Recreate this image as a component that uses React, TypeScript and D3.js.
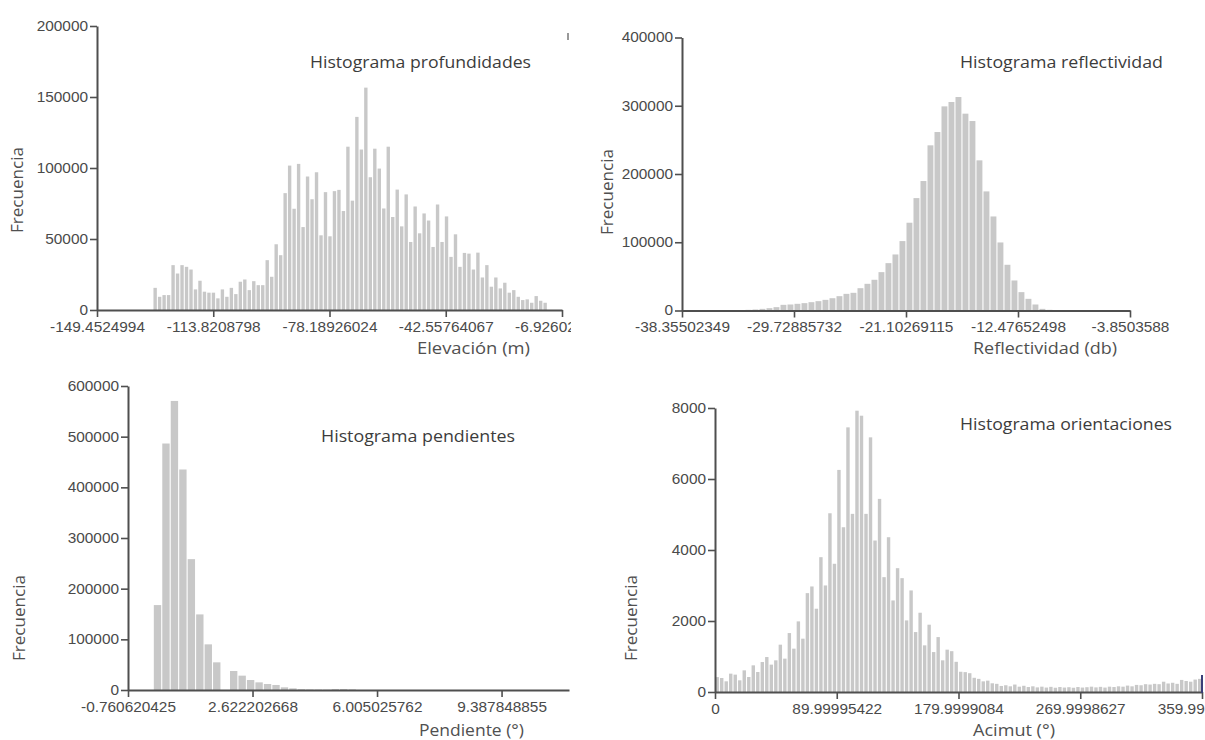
import React, { useEffect, useRef } from 'react';
import * as d3 from 'd3';

// Histograma profundidades
const elevTicks = [-149.4524994, -113.8208798, -78.18926024, -42.55764067, -6.92602889];
const elevTickLabels = ['-149.4524994', '-113.8208798', '-78.18926024', '-42.55764067', '-6.926028889'];
const elevYTicks = [0, 50000, 100000, 150000, 200000];
const elevBinStart = -132.3;
const elevBinWidth = 1.374;
const elevCounts = [
  15600, 9300, 10500, 10500, 31600, 25700, 31600, 30400, 28500, 14500, 20600, 12900, 12200, 12200, 8200,
  14500, 9300, 15600, 11200, 19900, 21500, 14000, 20300, 17500, 17500, 35100, 23400, 46300, 38600,
  82300, 101700, 71300, 102900, 58400, 94000, 78000, 97000, 52600, 83000, 51900, 83700, 84600, 69700,
  115000, 77000, 136000, 113000, 156600, 93500, 113600, 99600, 71500, 115000, 65500, 84800, 58900, 81400,
  47900, 72900, 54000, 68000, 63000, 44400, 74300, 47900, 65900, 37400, 53300, 30400, 40200, 39700, 28500,
  40400, 22900, 31600, 16400, 22900, 15200, 19200, 12200, 14000, 9300, 7000, 7500, 5100, 9800, 6500, 5100,
];

// Histograma reflectividad
const reflTicks = [-38.35502349, -29.72885732, -21.10269115, -12.47652498, -3.8503588];
const reflTickLabels = ['-38.35502349', '-29.72885732', '-21.10269115', '-12.47652498', '-3.8503588'];
const reflYTicks = [0, 100000, 200000, 300000, 400000];
const reflBinStart = -34.58108;
const reflBinWidth = 0.539135;
const reflCounts = [
  300, 500, 1000, 1500, 2400, 3400, 4900, 8300, 8800, 9800, 10800, 12200, 13700, 15600, 18000, 21000,
  24400, 25900, 32700, 39100, 45000, 56200, 69400, 82100, 101700, 128600, 164700, 189700, 242000, 261500,
  299100, 305500, 312800, 288400, 277600, 220000, 174500, 137800, 99700, 67000, 44000, 26900, 17100, 8800,
  2400, 1000, 500,
];

// Histograma pendientes
const slopeTicks = [-0.760620425, 2.622202668, 6.005025762, 9.387848855];
const slopeTickLabels = ['-0.760620425', '2.622202668', '6.005025762', '9.387848855'];
const slopeMax = 11.22;
const slopeYTicks = [0, 100000, 200000, 300000, 400000, 500000, 600000];
const slopeBinStart = -0.073;
const slopeBinWidth = 0.23;
const slopeCounts = [
  167600, 486500, 570500, 435200, 258300, 149200, 90100, 54600, 0, 37500, 28300, 19700, 15100, 11800,
  9900, 5300, 3300, 1500, 1000, 800, 700, 1800, 2000, 1200,
];

// Histograma orientaciones
const azTicks = [0, 89.99995422, 179.9999084, 269.9998627, 359.9998169];
const azTickLabels = ['0', '89.99995422', '179.9999084', '269.9998627', '359.99'];
const azYTicks = [0, 2000, 4000, 6000, 8000];
const azBinStart = 0;
const azBinWidth = 359.9998169 / 108;
const azCounts = [
  420, 394, 301, 517, 489, 329, 610, 422, 751, 563, 844, 985, 771, 892, 1333, 940, 1660, 1221, 1989, 1502,
  2785, 2973, 2346, 3798, 3001, 5035, 3612, 6256, 4641, 7455, 5018, 7924, 7783, 5018, 7173, 4267, 5440,
  3235, 4360, 2579, 3488, 3207, 2017, 2861, 1688, 2233, 1314, 1896, 1125, 1547, 892, 1193, 1150,
  850, 570, 560, 530, 400, 370, 300, 320, 245, 230, 170, 190, 160, 210, 150, 175, 140, 160, 130, 150,
  125, 145, 120, 140, 125, 135, 120, 140, 125, 135, 150, 130, 145, 125, 150, 140, 160, 150, 180, 160,
  200, 190, 220, 210, 230, 220, 290, 240, 260, 230, 340, 310, 290, 350, 370,
];

const panels = [
  {
    id: 'prof', counts: elevCounts, binStart: elevBinStart, binWidth: elevBinWidth,
    xDomain: [elevTicks[0], elevTicks[4]], xRange: [97, 562], yDomain: [0, 200000], yRange: [310, 26],
    xTicks: elevTicks, xLabels: elevTickLabels, yTicks: elevYTicks,
    title: 'Histograma profundidades', titlePos: [310, 68, 221],
    xTitle: 'Elevación (m)', xTitlePos: [417, 354, 113], yTitlePos: [17, 190], clip: 571, endLabel: false,
  },
  {
    id: 'refl', counts: reflCounts, binStart: reflBinStart, binWidth: reflBinWidth,
    xDomain: [reflTicks[0], reflTicks[4]], xRange: [682, 1130], yDomain: [0, 400000], yRange: [310.5, 37.5],
    xTicks: reflTicks, xLabels: reflTickLabels, yTicks: reflYTicks,
    title: 'Histograma reflectividad', titlePos: [960, 68, 203],
    xTitle: 'Reflectividad (db)', xTitlePos: [973, 354, 144], yTitlePos: [607, 192], clip: null, endLabel: false,
  },
  {
    id: 'pend', counts: slopeCounts, binStart: slopeBinStart, binWidth: slopeBinWidth,
    xDomain: [slopeTicks[0], slopeMax], xRange: [128, 569], yDomain: [0, 600000], yRange: [690, 386],
    xTicks: slopeTicks, xLabels: slopeTickLabels, yTicks: slopeYTicks,
    title: 'Histograma pendientes', titlePos: [321, 442, 194],
    xTitle: 'Pendiente (°)', xTitlePos: [419, 736, 105], yTitlePos: [19, 618], clip: null, endLabel: false,
  },
  {
    id: 'orient', counts: azCounts, binStart: azBinStart, binWidth: azBinWidth,
    xDomain: [azTicks[0], azTicks[4]], xRange: [715, 1202], yDomain: [0, 8000], yRange: [692, 408],
    xTicks: azTicks, xLabels: azTickLabels, yTicks: azYTicks,
    title: 'Histograma orientaciones', titlePos: [960, 430, 212],
    xTitle: 'Acimut (°)', xTitlePos: [973, 736, 82], yTitlePos: [631, 618], clip: null, endLabel: true,
  },
];

const barColor = '#c8c8c8';
const axisColor = '#4f4f4f';
const tickTextColor = '#4a4a4a';
const titleColor = '#3c3c3c';
const tickFont = '"Liberation Sans", Arial, sans-serif';
const labelFont = '"Open Sans", "Noto Sans", sans-serif';
const stretch = 1.1;

function App() {
  const ref = useRef<SVGSVGElement>(null);

  useEffect(() => {
    const svg = d3.select(ref.current);
    svg.selectAll('*').remove();

    panels.forEach(p => {
      const x = d3.scaleLinear().domain(p.xDomain).range(p.xRange);
      const y = d3.scaleLinear().domain(p.yDomain).range(p.yRange);

      if (p.clip) {
        svg.append('clipPath').attr('id', `clip-${p.id}`)
          .append('rect').attr('x', 0).attr('y', 0).attr('width', p.clip).attr('height', 370);
      }
      const g = svg.append('g').attr('clip-path', p.clip ? `url(#clip-${p.id})` : null);

      // bars
      const bins = p.counts.map((c, i) => ({ x0: p.binStart + i * p.binWidth, x1: p.binStart + (i + 1) * p.binWidth, c }));
      g.append('g').selectAll('rect')
        .data(bins.filter(b => b.c > 0))
        .join('rect')
        .attr('x', b => x(b.x0) + 0.5)
        .attr('width', b => Math.max(0.5, x(b.x1) - x(b.x0) - 1.1))
        .attr('y', b => y(b.c))
        .attr('height', b => y(0) - y(b.c))
        .attr('fill', barColor);

      // y axis
      const yAxis = g.append('g')
        .attr('transform', `translate(${p.xRange[0]},0)`)
        .call(d3.axisLeft(y).tickValues(p.yTicks).tickFormat(d3.format('d')).tickSize(7).tickSizeOuter(0).tickPadding(2));
      yAxis.selectAll('text')
        .attr('transform', 'translate(-9,0) scale(' + stretch + ',1) translate(9,0)')
        .style('font-family', tickFont).style('font-size', '14px').style('fill', tickTextColor);

      // x axis
      const xAxis = g.append('g')
        .attr('transform', `translate(0,${p.yRange[0]})`)
        .call(d3.axisBottom(x).tickValues(p.xTicks).tickFormat((d, i) => p.xLabels[i]).tickSize(7).tickSizeOuter(0).tickPadding(5));
      xAxis.selectAll('text')
        .attr('transform', 'scale(' + stretch + ',1)')
        .style('font-family', tickFont).style('font-size', '14px').style('fill', tickTextColor);
      if (p.endLabel) {
        // last label sits at the right edge of the picture
        xAxis.selectAll('.tick:last-of-type text').attr('text-anchor', 'end').attr('x', 2);
      }

      [yAxis, xAxis].forEach(a => {
        a.select('.domain').attr('stroke', axisColor).attr('stroke-width', 2);
        a.selectAll('.tick line').attr('stroke', axisColor).attr('stroke-width', 1.6);
      });

      // titles
      g.append('text')
        .attr('x', p.titlePos[0]).attr('y', p.titlePos[1])
        .attr('textLength', p.titlePos[2]).attr('lengthAdjust', 'spacingAndGlyphs')
        .style('font-family', labelFont).style('font-size', '16px').style('fill', titleColor)
        .text(p.title);

      g.append('text')
        .attr('x', p.xTitlePos[0]).attr('y', p.xTitlePos[1])
        .attr('textLength', p.xTitlePos[2]).attr('lengthAdjust', 'spacingAndGlyphs')
        .style('font-family', labelFont).style('font-size', '16px').style('fill', '#505050')
        .text(p.xTitle);

      g.append('text')
        .attr('transform', `translate(${p.yTitlePos[0] + 6},${p.yTitlePos[1]}) rotate(-90)`)
        .attr('text-anchor', 'middle')
        .attr('textLength', 86).attr('lengthAdjust', 'spacingAndGlyphs')
        .style('font-family', labelFont).style('font-size', '16px').style('fill', '#505050')
        .text('Frecuencia');
    });

    // small marks present in the original screenshot
    svg.append('line').attr('x1', 568).attr('x2', 568).attr('y1', 33).attr('y2', 40)
      .attr('stroke', '#777').attr('stroke-width', 1.5);
    svg.append('line').attr('x1', 1202).attr('x2', 1202).attr('y1', 675).attr('y2', 693)
      .attr('stroke', '#3b3f78').attr('stroke-width', 2);
  }, []);

  return (
    <svg ref={ref} width={1205} height={740}
      style={{ position: 'absolute', left: 0, top: 0, background: '#fff' }} />
  );
}

export default App;
